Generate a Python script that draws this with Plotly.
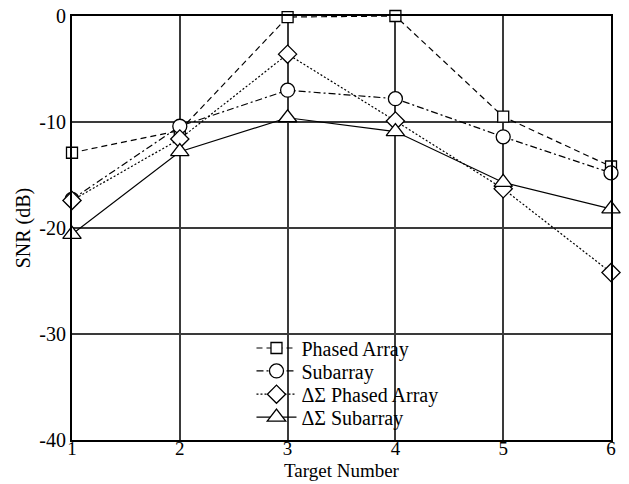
import plotly.graph_objects as go

targets = [1, 2, 3, 4, 5, 6]
phased_array = [-12.9, -10.8, -0.1, 0.0, -9.5, -14.2]
subarray = [-17.3, -10.4, -7.0, -7.8, -11.4, -14.8]
ds_phased_array = [-17.4, -11.6, -3.6, -9.9, -16.3, -24.2]
ds_subarray = [-20.6, -12.8, -9.6, -10.9, -15.7, -18.2]

y_tick_vals = [0, -10, -20, -30, -40]
y_tick_text = ["0", "-10", "-20", "-30", "-40"]
x_tick_vals = [1, 2, 3, 4, 5, 6]
x_tick_text = ["1", "2", "3", "4", "5", "6"]

series = [
    ("Phased Array", phased_array, "square", "6px,4px", 11),
    ("Subarray", subarray, "circle", "7px,3px,2px,3px", 14),
    ("\u0394\u03a3 Phased Array", ds_phased_array, "diamond", "2px,2px", 14),
    ("\u0394\u03a3 Subarray", ds_subarray, "triangle-up", "solid", 16),
]

SERIF = "Liberation Serif"

fig = go.Figure()
legend_names = ["legend", "legend2", "legend3", "legend4"]
for (name, vals, sym, dash, size), lg in zip(series, legend_names):
    fig.add_trace(go.Scatter(
        x=targets, y=vals, name=name, mode="lines+markers",
        line=dict(color="black", width=1.2, dash=dash),
        marker=dict(symbol=sym, size=size, color="white",
                    line=dict(color="black", width=1.3)),
        cliponaxis=False, legend=lg,
    ))

axis_common = dict(
    showline=True, linecolor="black", linewidth=2, mirror=True,
    showgrid=True, gridcolor="#3a3a3a", gridwidth=1.5,
    zeroline=False, ticks="", automargin=False,
)

# one legend box per entry so the rows sit close together
legend_rows = [0.217, 0.163, 0.108, 0.054]
legend_style = dict(x=0.333, xanchor="left", yanchor="middle", bgcolor="rgba(0,0,0,0)",
                    font=dict(family=SERIF, size=20, color="black"), itemwidth=40)

fig.update_layout(
    width=629, height=484,
    margin=dict(l=72, r=18, t=16, b=44),
    paper_bgcolor="white", plot_bgcolor="white",
    font=dict(family=SERIF, color="black"),
    xaxis=dict(range=[1, 6], tickmode="array", tickvals=x_tick_vals, ticktext=x_tick_text,
               ticklabelstandoff=-10, tickfont=dict(family=SERIF, size=19, color="black"),
               title=dict(text="Target Number", font=dict(size=19), standoff=6), **axis_common),
    yaxis=dict(range=[-40, 0], tickmode="array", tickvals=y_tick_vals, ticktext=y_tick_text,
               tickfont=dict(family=SERIF, size=20, color="black"),
               title=dict(text="SNR (dB)", font=dict(size=20), standoff=3), **axis_common),
    showlegend=True,
    legend=dict(y=legend_rows[0], **legend_style),
    legend2=dict(y=legend_rows[1], **legend_style),
    legend3=dict(y=legend_rows[2], **legend_style),
    legend4=dict(y=legend_rows[3], **legend_style),
)

fig.write_html("out.html")
